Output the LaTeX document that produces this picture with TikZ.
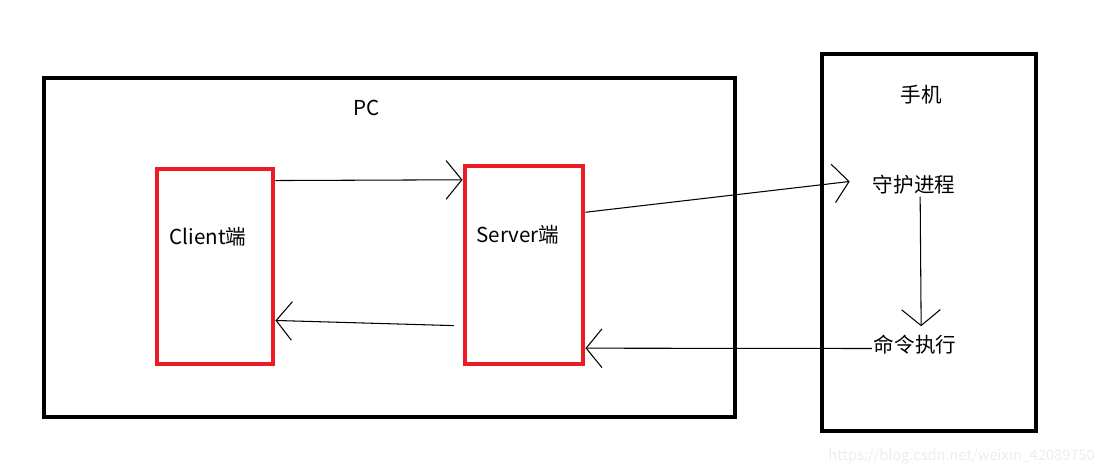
\documentclass[tikz,border=0pt]{standalone}
\usepackage{fontspec}
\setmainfont{Noto Sans CJK SC}
\usetikzlibrary{arrows.meta,positioning,calc}
\definecolor{paintred}{RGB}{237,28,36}

\begin{document}
\begin{tikzpicture}[x=0.02cm,y=-0.02cm,
  frame/.style={rectangle,draw=black,line width=2.4pt,inner sep=0pt},
  redbox/.style={rectangle,draw=paintred,line width=2.8pt,inner sep=0pt},
  lbl/.style={inner sep=0pt,font=\fontsize{11.7}{13}\selectfont},
  arrow/.style={-{Straight Barb[length=9pt,width=22pt]},line width=0.6pt}]
\useasboundingbox (0,0) rectangle (1105,475);
% frames
\node[frame,minimum width=13.82cm,minimum height=6.78cm] (pc) at (389.5,247.5) {};
\node[frame,minimum width=4.28cm,minimum height=7.54cm] (phone) at (929,242.5) {};
\node[lbl] (pclbl) at (367,108) {PC};
\node[lbl] (phonelbl) at (921,95) {手机};
% PC side
\node[redbox,minimum width=2.32cm,minimum height=3.9cm] (client) at (215,266.5) {};
\node[redbox,minimum width=2.36cm,minimum height=3.96cm] (server) at (524,265) {};
\node[lbl] (clientlbl) at (208,237) {Client端};
\node[lbl] (serverlbl) at (518,235) {Server端};
% phone side
\node[lbl] (daemon) at (914,185) {守护进程};
\node[lbl] (exec) at (915,345) {命令执行};
% connectors
\draw[arrow] ($(client.north east)!0.07!(client.south east)$) -- ($(server.north west)!0.08!(server.south west)$);
\draw[arrow,shorten <=5pt] ($(server.north west)!0.80!(server.south west)$) -- ($(client.north east)!0.77!(client.south east)$);
\draw[arrow] ($(server.north east)!0.24!(server.south east)$) -- ([xshift=-13pt,yshift=2pt]daemon.west);
\draw[arrow] ([xshift=3.5pt,yshift=-1pt]daemon.south) -- ([xshift=3.5pt,yshift=5pt]exec.north);
\draw[arrow,shorten <=1pt] ([yshift=-2pt]exec.west) -- ($(server.north east)!0.91!(server.south east)$);
% watermark
\node[inner sep=0pt,anchor=east,text=black!7,font=\fontsize{8.3}{10}\selectfont] (mark) at (1095,457) {https://blog.csdn.net/weixin\_42089750};
\end{tikzpicture}
\end{document}
